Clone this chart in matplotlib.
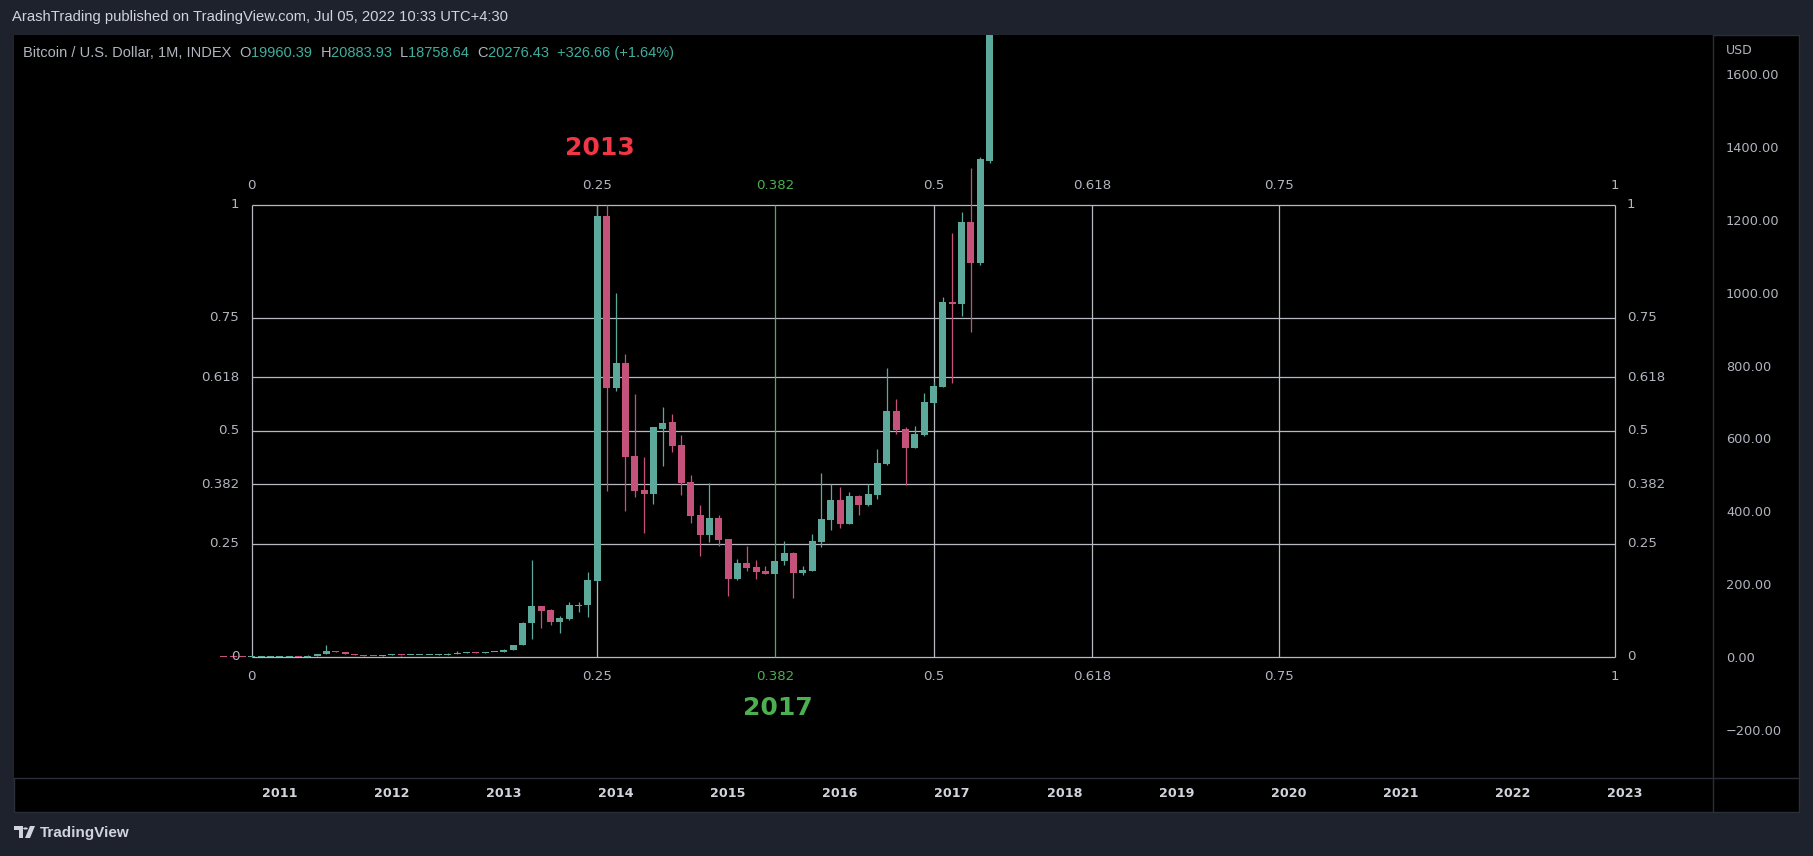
import numpy as np
import matplotlib
matplotlib.use('Agg')
import matplotlib.pyplot as plt
from matplotlib import font_manager as fm
from matplotlib.patches import Rectangle, Polygon, Circle
from matplotlib.lines import Line2D

# ---------------- data (monthly BTCUSD INDEX) ----------------
months = ['2010-07', '2010-08', '2010-09', '2010-10', '2010-11', '2010-12',
          '2011-01', '2011-02', '2011-03', '2011-04', '2011-05', '2011-06',
          '2011-07', '2011-08', '2011-09', '2011-10', '2011-11', '2011-12',
          '2012-01', '2012-02', '2012-03', '2012-04', '2012-05', '2012-06',
          '2012-07', '2012-08', '2012-09', '2012-10', '2012-11', '2012-12',
          '2013-01', '2013-02', '2013-03', '2013-04', '2013-05', '2013-06',
          '2013-07', '2013-08', '2013-09', '2013-10', '2013-11', '2013-12',
          '2014-01', '2014-02', '2014-03', '2014-04', '2014-05', '2014-06',
          '2014-07', '2014-08', '2014-09', '2014-10', '2014-11', '2014-12',
          '2015-01', '2015-02', '2015-03', '2015-04', '2015-05', '2015-06',
          '2015-07', '2015-08', '2015-09', '2015-10', '2015-11', '2015-12',
          '2016-01', '2016-02', '2016-03', '2016-04', '2016-05', '2016-06',
          '2016-07', '2016-08', '2016-09', '2016-10', '2016-11', '2016-12',
          '2017-01', '2017-02', '2017-03', '2017-04', '2017-05']
opens = [0.09, 0.07, 0.063, 0.06, 0.19, 0.21,
         0.30, 0.52, 0.86, 0.78, 3.5, 8.7,
         16.1, 13.4, 8.2, 5.1, 3.2, 2.97,
         4.7, 5.5, 4.9, 4.95, 5.0, 5.15,
         6.7, 9.35, 10.2, 12.4, 11.2, 12.6,
         13.5, 20.4, 33.4, 93, 140, 128,
         96, 104, 140.5, 143, 209, 1210,
         739, 807, 552, 458, 448, 627,
         645, 582, 480, 390, 335, 382,
         324, 215, 258, 247, 236, 229,
         264, 285, 231, 236, 317, 376,
         431, 366, 442, 416, 446, 530,
         675, 626, 575, 610, 698, 742,
         974, 970, 1194, 1082, 1362]
highs = [0.10, 0.07, 0.07, 0.19, 0.50, 0.30,
         1.0, 1.10, 0.95, 4.2, 8.9, 32.0,
         17.5, 13.9, 8.6, 5.2, 3.5, 4.8,
         7.4, 6.2, 5.4, 5.3, 5.2, 6.9,
         9.7, 16.0, 12.9, 12.9, 12.7, 14.0,
         20.9, 33.4, 97, 266, 141, 132,
         112, 151, 151, 233, 1242, 1240,
         998, 832, 722, 548, 632, 686,
         667, 609, 500, 417, 477, 390,
         325, 269, 305, 265, 250, 264,
         318, 289, 250, 338, 505, 476,
         467, 453, 444, 476, 571, 793,
         708, 631, 634, 725, 755, 988,
         1164, 1222, 1342, 1373, 2790]
lows = [0.05, 0.06, 0.06, 0.06, 0.19, 0.18,
        0.30, 0.52, 0.72, 0.56, 2.9, 8.5,
        12.5, 7.0, 4.3, 2.0, 2.0, 2.7,
        4.2, 4.1, 4.6, 4.7, 4.9, 5.1,
        6.5, 7.1, 9.8, 10.2, 10.5, 12.5,
        13.2, 19.1, 33.1, 49, 80, 88,
        66, 102, 124, 110, 205, 457,
        731, 402, 440, 341, 421, 525,
        564, 446, 369, 278, 317, 306,
        168, 212, 237, 215, 228, 228,
        253, 163, 226, 236, 303, 349,
        355, 365, 390, 415, 434, 528,
        612, 473, 573, 608, 695, 740,
        753, 936, 893, 1076, 1355]
closes = [0.07, 0.063, 0.062, 0.19, 0.21, 0.30,
          0.52, 0.86, 0.78, 3.5, 8.7, 16.1,
          13.4, 8.2, 5.1, 3.2, 2.97, 4.7,
          5.5, 4.9, 4.95, 5.0, 5.15, 6.7,
          9.35, 10.2, 12.4, 11.2, 12.6, 13.5,
          20.4, 33.4, 93, 140, 126, 96,
          106, 143, 141.5, 211, 1210, 739,
          807, 550, 457, 448, 630, 642,
          580, 478, 388, 335, 382, 321,
          215, 258, 245, 234, 229, 264,
          286, 231, 239, 318, 379, 431,
          366, 442, 416, 448, 533, 675,
          623, 575, 612, 700, 744, 974,
          969, 1194, 1082, 1366, 2300]

fib_levels = [0, 0.25, 0.382, 0.5, 0.618, 0.75, 1]
fib_level_labels = ['0', '0.25', '0.382', '0.5', '0.618', '0.75', '1']
fib_low, fib_high = 0.0, 1242.0
fib_start, fib_end = '2010-10', '2022-12'

year_labels = ['2011', '2012', '2013', '2014', '2015', '2016', '2017',
               '2018', '2019', '2020', '2021', '2022', '2023']
price_ticks = [-200, 0, 200, 400, 600, 800, 1000, 1200, 1400, 1600]

header_text = 'ArashTrading published on TradingView.com, Jul 05, 2022 10:33 UTC+4:30'
symbol_text = 'Bitcoin / U.S. Dollar, 1M, INDEX'
ohlc_last = [('O', '19960.39'), ('H', '20883.93'), ('L', '18758.64'), ('C', '20276.43')]
change_text = '+326.66 (+1.64%)'
tag_2013, tag_2017 = '2013', '2017'

# ---------------- styling ----------------
W, H = 1813, 856
BG = '#1e222d'
PANEL = '#000000'
SEP = '#2a2e39'
TXT = '#b2b5be'
TXT2 = '#d1d4dc'
UP = '#5ca89b'
DN = '#c4527a'
VAL = '#3fae9f'
GRID = '#b7b9c0'
GREEN = '#4caf50'
RED = '#f23645'

names = {f.name for f in fm.fontManager.ttflist}
NARROW = 'Liberation Sans Narrow' if 'Liberation Sans Narrow' in names else 'Liberation Sans'


def midx(s):
    y, m = map(int, s.split('-'))
    return (y - 2011) * 12 + (m - 1)


def fx(px):
    return px / W


def fy(py):
    return 1 - py / H


fig = plt.figure(figsize=(W / 100, H / 100), dpi=100, facecolor=BG)

# chart panel background (behind everything)
fig.patches.append(Rectangle((fx(14), fy(812)), fx(1799) - fx(14), fy(35) - fy(812),
                             transform=fig.transFigure, facecolor=PANEL,
                             edgecolor=SEP, linewidth=1, zorder=-5))

ax_l, ax_r, ax_t, ax_b = 14, 1713, 35, 777.6
ax = fig.add_axes([fx(ax_l), fy(ax_b), fx(ax_r) - fx(ax_l), fy(ax_t) - fy(ax_b)])
ax.set_zorder(1)
ax.set_facecolor(PANEL)
for s in ax.spines.values():
    s.set_visible(False)

# limits (derived from axis geometry: 9.339 px / month, 0.3643 px / USD)
px_month = 9.339
px_usd = 0.3643
x_jan2011 = 279.8
y_zero = 657.0
ax.set_xlim((ax_l - x_jan2011) / px_month, (ax_r - x_jan2011) / px_month)
ax.set_ylim((y_zero - ax_b) / px_usd, (y_zero - ax_t) / px_usd)

# separators
fig.add_artist(Line2D([fx(ax_r), fx(ax_r)], [fy(35), fy(812)], color=SEP, lw=1,
                      transform=fig.transFigure, zorder=3))
fig.add_artist(Line2D([fx(14), fx(1799)], [fy(ax_b), fy(ax_b)], color=SEP, lw=1,
                      transform=fig.transFigure, zorder=3))

# ---------------- candles ----------------
x = np.array([midx(m) for m in months], dtype=float)
o = np.array(opens, dtype=float)
h = np.array(highs, dtype=float)
l = np.array(lows, dtype=float)
c = np.array(closes, dtype=float)
cols = np.where(c >= o, UP, DN)

ylo, yhi = ax.get_ylim()
one_px = (yhi - ylo) / ax.bbox.height
body_h = np.maximum(np.abs(c - o), one_px)
ax.vlines(x, l, h, colors=cols, linewidth=0.9, zorder=3)
ax.bar(x, body_h, bottom=np.minimum(o, c), width=0.75, color=cols,
       linewidth=0, zorder=4)

# ---------------- fib grid ----------------
FS = 9.6
x0, x1 = midx(fib_start), midx(fib_end)
fib_prices = [fib_low + f * (fib_high - fib_low) for f in fib_levels]
fib_xs = [np.floor(x0 + f * (x1 - x0) + 0.5) for f in fib_levels]
ax.hlines(fib_prices, x0, x1, colors=GRID, linewidth=0.9, zorder=2)
for f, xv, lab in zip(fib_levels, fib_xs, fib_level_labels):
    col = GREEN if lab == '0.382' else GRID
    ax.vlines(xv, fib_low, fib_high, colors=col, linewidth=0.9, zorder=2)
    tcol = GREEN if lab == '0.382' else TXT
    ax.annotate(lab, (xv, fib_high), xytext=(0, 13.8), textcoords='offset points',
                ha='center', va='center', color=tcol, fontsize=FS, zorder=6)
    ax.annotate(lab, (xv, fib_low), xytext=(0, -14.2), textcoords='offset points',
                ha='center', va='center', color=tcol, fontsize=FS, zorder=6)
for pv, lab in zip(fib_prices, fib_level_labels):
    ax.annotate(lab, (x0, pv), xytext=(-9.1, 0), textcoords='offset points',
                ha='right', va='center', color=TXT, fontsize=FS, zorder=6)
    ax.annotate(lab, (x1, pv), xytext=(8.3, 0), textcoords='offset points',
                ha='left', va='center', color=TXT, fontsize=FS, zorder=6)

# era tags
ax.annotate(tag_2013, (fib_xs[1], fib_high), xytext=(2, 40.6), textcoords='offset points',
            ha='center', va='center', color=RED, fontsize=18, fontweight='bold', zorder=6)
ax.annotate(tag_2017, (fib_xs[2], fib_low), xytext=(2, -36.7), textcoords='offset points',
            ha='center', va='center', color=GREEN, fontsize=18, fontweight='bold', zorder=6)

# ---------------- axes ticks ----------------
ax.set_yticks(price_ticks)
ax.set_yticklabels([f'{v:.2f}'.replace('-', '\u2212') for v in price_ticks])
ax.tick_params(axis='y', left=False, labelleft=False, right=False, labelright=True,
               length=0, pad=9.4, labelsize=9.3, labelcolor=TXT)
ax.set_xticks([midx(f'{yl}-01') for yl in year_labels])
ax.set_xticklabels(year_labels, fontweight='bold')
ax.tick_params(axis='x', bottom=False, length=0, pad=6.5, labelsize=9.2, labelcolor=TXT2)
ax.grid(False)

fig.text(fx(1726), fy(50), 'USD', color=TXT, fontsize=9, va='center', ha='left')

# ---------------- header / legend ----------------
fig.text(fx(12), fy(17.3), header_text, color=TXT2, fontsize=10.6, family=NARROW,
         va='center', ha='left')

fig.canvas.draw()
renderer = fig.canvas.get_renderer()
pieces = [(symbol_text + '  ', TXT)]
for k, v in ohlc_last:
    pieces.append((k, TXT))
    pieces.append((v + '  ', VAL))
pieces.append((change_text, VAL))
xpos = 23.0
for txt, col in pieces:
    t = fig.text(fx(xpos), fy(53.2), txt, color=col, fontsize=10.5, family=NARROW,
                 va='center', ha='left', zorder=5)
    bb = t.get_window_extent(renderer=renderer)
    xpos += bb.width

# ---------------- footer (logo + text) ----------------
lc = TXT2
fig.patches.append(Polygon([(fx(14), fy(826)), (fx(23), fy(826)), (fx(23), fy(838)),
                            (fx(19), fy(838)), (fx(19), fy(830)), (fx(14), fy(830))],
                           closed=True, transform=fig.transFigure, facecolor=lc, edgecolor='none'))
fig.patches.append(Circle((fx(25.5), fy(828.5)), 2.3 / W, transform=fig.transFigure,
                          facecolor=lc, edgecolor='none'))
fig.patches.append(Polygon([(fx(30), fy(826)), (fx(35), fy(826)), (fx(30), fy(838)),
                            (fx(25), fy(838))],
                           closed=True, transform=fig.transFigure, facecolor=lc, edgecolor='none'))
fig.text(fx(40), fy(832.5), 'TradingView', color=TXT2, fontsize=11,
         family='Liberation Sans', fontweight='bold', va='center', ha='left')

fig.savefig('out.png', dpi=100, facecolor=BG)
